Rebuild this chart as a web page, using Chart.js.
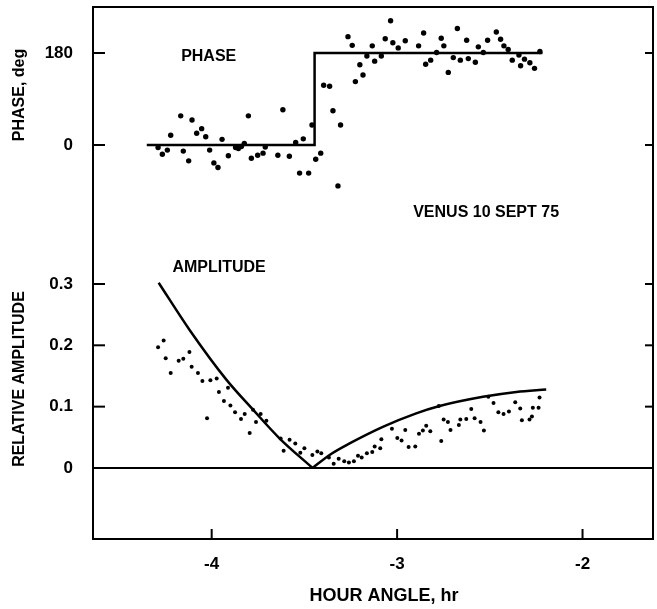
<!DOCTYPE html>
<html lang="en">
<head>
    <meta charset="UTF-8">
    <title>Venus 10 Sept 75 - Phase and Amplitude</title>
    <script src="https://cdn.jsdelivr.net/npm/chart.js"></script>
    <style>
        body {
            margin: 0;
            padding: 0;
            background: #fff;
        }

        .chart-box {
            position: relative;
            width: 657px;
            height: 609px;
        }
    </style>
</head>
<body>
    <div class="chart-box">
        <canvas id="venusChart"></canvas>
    </div>
    <script>
        // Measured phase (hour angle, hr / phase, deg)
        const phaseHour = [-4.289, -4.266, -4.239, -4.221, -4.167, -4.153, -4.124, -4.106, -4.081, -4.054,
            -4.032, -4.011, -3.988, -3.966, -3.944, -3.910, -3.871, -3.856, -3.840, -3.824,
            -3.802, -3.786, -3.752, -3.723, -3.711, -3.643, -3.616, -3.581, -3.547, -3.526,
            -3.506, -3.477, -3.459, -3.439, -3.412,
            -3.396, -3.364, -3.346, -3.305, -3.319, -3.265, -3.242, -3.225, -3.201, -3.184,
            -3.163, -3.134, -3.121, -3.085, -3.064, -3.035, -3.023, -2.994, -2.956, -2.884,
            -2.857, -2.846, -2.819, -2.787, -2.762, -2.748, -2.724, -2.697, -2.675, -2.659,
            -2.625, -2.616, -2.578, -2.562, -2.535, -2.512, -2.465, -2.442, -2.424, -2.401,
            -2.379, -2.343, -2.334, -2.313, -2.284, -2.259, -2.230];
        const phaseDeg = [-5, -18, -10, 19, 57, -12, -31, 49, 23, 32,
            16, -10, -35, -44, 11, -21, -5, -7, -3, 3,
            57, -26, -20, -16, -4, -20, 69, -22, 5, -55,
            12, -55, 39, -28, -16,
            117, 115, 67, 39, -80, 212, 195, 124, 157, 137,
            174, 194, 164, 174, 208, 243, 200, 190, 204, 194,
            219, 158, 166, 181, 209, 194, 142, 171, 228, 166,
            205, 169, 162, 192, 181, 205, 221, 207, 194, 187,
            166, 176, 155, 168, 161, 150, 183];

        // Model phase (step from 0 to 180 deg)
        const phaseModelHour = [-4.35, -3.445, -3.445, -2.216];
        const phaseModelDeg = [0, 0, 180, 180];

        // Measured relative amplitude
        const ampHour = [-4.289, -4.259, -4.248, -4.221, -4.178, -4.153, -4.120, -4.108, -4.074, -4.050,
            -4.007, -3.973, -4.025, -3.961, -3.934, -3.912, -3.899, -3.874, -3.842, -3.822,
            -3.795, -3.777, -3.761, -3.736, -3.705, -3.628, -3.612, -3.580, -3.549, -3.522,
            -3.500, -3.457, -3.430, -3.409, -3.368, -3.342, -3.315, -3.285, -3.260, -3.233,
            -3.211, -3.191, -3.163, -3.134, -3.121, -3.091, -3.085, -3.028, -2.999, -2.976,
            -2.956, -2.938, -2.902, -2.882, -2.861, -2.843, -2.821, -2.762, -2.749, -2.726,
            -2.712, -2.667, -2.659, -2.627, -2.600, -2.582, -2.550, -2.532, -2.508, -2.480,
            -2.454, -2.426, -2.397, -2.363, -2.336, -2.327, -2.286, -2.273, -2.268, -2.237,
            -2.232, -2.775];
        const ampVal = [0.197, 0.208, 0.179, 0.155, 0.175, 0.178, 0.189, 0.165, 0.155, 0.142,
            0.143, 0.146, 0.081, 0.124, 0.109, 0.131, 0.102, 0.091, 0.080, 0.088,
            0.057, 0.095, 0.075, 0.088, 0.077, 0.048, 0.028, 0.046, 0.040, 0.025,
            0.032, 0.021, 0.027, 0.024, 0.017, 0.007, 0.015, 0.011, 0.009, 0.011,
            0.020, 0.017, 0.024, 0.026, 0.035, 0.032, 0.047, 0.064, 0.049, 0.045,
            0.062, 0.034, 0.035, 0.056, 0.061, 0.069, 0.060, 0.044, 0.079, 0.075,
            0.062, 0.070, 0.079, 0.080, 0.096, 0.081, 0.075, 0.061, 0.116, 0.106,
            0.091, 0.088, 0.092, 0.107, 0.097, 0.078, 0.079, 0.084, 0.098, 0.098,
            0.115, 0.101];

        // Model amplitude, two branches meeting at the null
        const ampModelLeftHour = [-4.286, -4.119, -3.921, -3.777, -3.633, -3.456];
        const ampModelLeftVal = [0.302, 0.225, 0.144, 0.095, 0.048, 0];
        const ampModelRightHour = [-3.456, -3.36, -3.256, -3.077, -2.897, -2.771, -2.537, -2.357, -2.196];
        const ampModelRightVal = [0, 0.022, 0.040, 0.067, 0.089, 0.101, 0.116, 0.124, 0.128];

        // Tick labels
        const hourTicks = [-4, -3, -2];
        const phaseTicks = [0, 180];
        const ampTicks = [0, 0.1, 0.2, 0.3];

        const toPoints = (xs, ys) => xs.map((x, i) => ({ x: x, y: ys[i] }));

        const FONT = '"Liberation Sans", Arial, sans-serif';
        Chart.defaults.font.family = FONT;
        Chart.defaults.font.weight = 'bold';
        Chart.defaults.color = '#000';

        // keep the axes from asking for extra room around the plot
        const noPad = s => {
            s.paddingTop = 0;
            s.paddingBottom = 0;
            s.paddingLeft = 0;
            s.paddingRight = 0;
        };

        // frame, inward tick marks and the text labels
        const frameAndLabels = {
            id: 'frameAndLabels',
            afterDatasetsDraw(chart) {
                const { ctx, chartArea: a, scales } = chart;
                ctx.save();
                ctx.strokeStyle = '#000';
                ctx.lineWidth = 2;
                ctx.strokeRect(a.left, a.top, a.right - a.left, a.bottom - a.top);

                const seg = (x1, y1, x2, y2) => {
                    ctx.beginPath();
                    ctx.moveTo(x1, y1);
                    ctx.lineTo(x2, y2);
                    ctx.stroke();
                };
                ['yPhase', 'yAmp'].forEach(id => {
                    const s = scales[id];
                    s.ticks.forEach(t => {
                        const y = s.getPixelForValue(t.value);
                        seg(a.left, y, a.left + 12, y);
                        seg(a.right - 8, y, a.right, y);
                    });
                });
                scales.x.ticks.forEach(t => {
                    const x = scales.x.getPixelForValue(t.value);
                    seg(x, a.bottom, x, a.bottom - 10);
                });

                ctx.fillStyle = '#000';
                ctx.textAlign = 'center';
                ctx.textBaseline = 'middle';
                ctx.font = 'bold 16px ' + FONT;
                ctx.fillText('PHASE', scales.x.getPixelForValue(-4.016), scales.yPhase.getPixelForValue(172));
                ctx.fillText('VENUS 10 SEPT 75', scales.x.getPixelForValue(-2.52), scales.yPhase.getPixelForValue(-133));
                ctx.fillText('AMPLITUDE', scales.x.getPixelForValue(-3.96), scales.yAmp.getPixelForValue(0.326));

                ctx.font = 'bold 18px ' + FONT;
                ctx.fillText('HOUR ANGLE, hr', 384, 596);
                ctx.font = 'bold 16px ' + FONT;
                ctx.save();
                ctx.translate(20, 95);
                ctx.rotate(-Math.PI / 2);
                ctx.fillText('PHASE, deg', 0, 0);
                ctx.restore();
                ctx.save();
                ctx.translate(20, 379);
                ctx.rotate(-Math.PI / 2);
                ctx.fillText('RELATIVE AMPLITUDE', 0, 0);
                ctx.restore();
                ctx.restore();
            }
        };

        new Chart(document.getElementById('venusChart'), {
            type: 'scatter',
            data: {
                datasets: [
                    {
                        label: 'Phase model',
                        data: toPoints(phaseModelHour, phaseModelDeg),
                        yAxisID: 'yPhase',
                        showLine: true,
                        borderColor: '#000',
                        borderWidth: 2.5,
                        pointRadius: 0
                    },
                    {
                        label: 'Phase',
                        data: toPoints(phaseHour, phaseDeg),
                        yAxisID: 'yPhase',
                        backgroundColor: '#000',
                        borderWidth: 0,
                        pointRadius: 2.7
                    },
                    {
                        label: 'Amplitude model (left)',
                        data: toPoints(ampModelLeftHour, ampModelLeftVal),
                        yAxisID: 'yAmp',
                        showLine: true,
                        cubicInterpolationMode: 'monotone',
                        borderColor: '#000',
                        borderWidth: 2.5,
                        pointRadius: 0
                    },
                    {
                        label: 'Amplitude model (right)',
                        data: toPoints(ampModelRightHour, ampModelRightVal),
                        yAxisID: 'yAmp',
                        showLine: true,
                        cubicInterpolationMode: 'monotone',
                        borderColor: '#000',
                        borderWidth: 2.5,
                        pointRadius: 0
                    },
                    {
                        label: 'Amplitude',
                        data: toPoints(ampHour, ampVal),
                        yAxisID: 'yAmp',
                        backgroundColor: '#000',
                        borderWidth: 0,
                        pointRadius: 2
                    }
                ]
            },
            options: {
                responsive: true,
                maintainAspectRatio: false,
                animation: false,
                layout: {
                    padding: { top: 7, right: 3, left: 0, bottom: 0 }
                },
                plugins: {
                    legend: { display: false },
                    tooltip: { enabled: false }
                },
                scales: {
                    x: {
                        type: 'linear',
                        position: 'bottom',
                        min: -4.64,
                        max: -1.62,
                        afterBuildTicks: s => { s.ticks = hourTicks.map(v => ({ value: v })); },
                        afterFit: s => { s.height = 70; noPad(s); },
                        grid: { display: false },
                        border: { display: false },
                        ticks: {
                            padding: 7,
                            font: { size: 17 },
                            callback: v => String(v)
                        }
                    },
                    // the two left axes share one stack: phase on top, amplitude below
                    yPhase: {
                        type: 'linear',
                        position: 'left',
                        stack: 'left',
                        stackWeight: 233,
                        weight: 1,
                        min: -185.9,
                        max: 270,
                        afterBuildTicks: s => { s.ticks = phaseTicks.map(v => ({ value: v })); },
                        afterFit: s => { s.width = 93; noPad(s); },
                        grid: { display: false, drawTicks: false },
                        border: { display: false },
                        ticks: {
                            padding: 20,
                            font: { size: 17 },
                            callback: v => String(v)
                        }
                    },
                    yAmp: {
                        type: 'linear',
                        position: 'left',
                        stack: 'left',
                        stackWeight: 299,
                        weight: 0,
                        min: -0.1158,
                        max: 0.3717,
                        afterBuildTicks: s => { s.ticks = ampTicks.map(v => ({ value: v })); },
                        afterFit: s => { s.width = 93; noPad(s); },
                        grid: {
                            drawTicks: false,
                            lineWidth: 2,
                            color: c => (c.tick && c.tick.value === 0 ? '#000' : 'rgba(0,0,0,0)')
                        },
                        border: { display: false },
                        ticks: {
                            padding: 20,
                            font: { size: 17 },
                            callback: v => (v === 0 ? '0' : v.toFixed(1))
                        }
                    }
                }
            },
            plugins: [frameAndLabels]
        });
    </script>
</body>
</html>
